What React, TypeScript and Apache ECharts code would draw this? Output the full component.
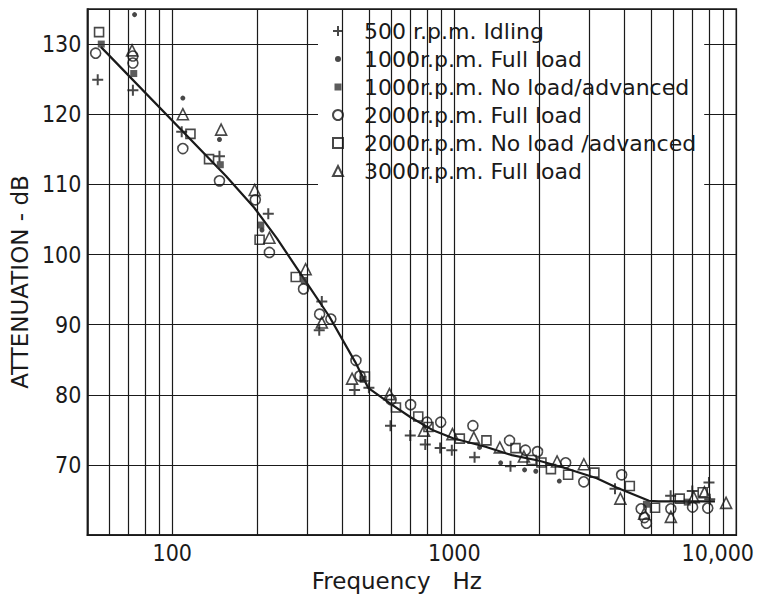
import React, { useEffect, useRef } from 'react';
import * as echarts from 'echarts';

// ---- data (frequency Hz, attenuation dB) ----
const SERIES_NAMES = [
  '500 r.p.m. Idling',
  '1000r.p.m. Full load',
  '1000r.p.m. No load/advanced',
  '2000r.p.m. Full load',
  '2000r.p.m. No load /advanced',
  '3000r.p.m. Full load',
];

const idling500: number[][] = [
  [54.4, 124.9], [72.5, 123.4], [108, 117.5], [147, 114.0], [219, 105.8],
  [339, 93.3], [332, 89.2], [443, 80.7], [498, 81.0], [594, 75.6],
  [698, 74.2], [789, 72.9], [891, 72.4], [980, 72.1], [1180, 71.1],
  [1582, 69.8], [3714, 66.6], [5850, 65.6], [6980, 66.3], [8000, 67.5], [8050, 65.1],
];
const full1000: number[][] = [
  [73.5, 134.2], [109, 122.3], [147, 116.4], [208, 103.5], [1229, 72.5],
  [1460, 70.3], [1775, 69.3], [1945, 69.1], [2357, 67.7],
];
const noload1000: number[][] = [
  [56, 130.0], [73, 125.8], [148, 112.8], [206, 104.2], [294, 96.3],
  [475, 82.2], [4800, 64.4], [6700, 64.7],
];
const full2000: number[][] = [
  [53.5, 128.7], [72.5, 128.3], [72.5, 127.3], [109, 115.1], [147, 110.5],
  [197, 107.8], [221, 100.3], [292, 95.1], [333, 91.5], [365, 90.8],
  [448, 84.9], [463, 82.7], [597, 79.3], [700, 78.6], [800, 76.1],
  [895, 76.1], [1164, 75.6], [1570, 73.5], [1788, 72.1], [1973, 71.9],
  [2483, 70.3], [2878, 67.6], [3921, 68.6], [4598, 63.75], [4722, 62.5],
  [4800, 61.7], [5860, 63.75], [6996, 64.0], [7920, 63.85],
];
const noload2000: number[][] = [
  [55, 131.7], [116, 117.2], [135, 113.6], [204, 102.1], [274, 96.8],
  [482, 82.6], [621, 78.2], [745, 76.9], [810, 75.4], [1046, 73.75],
  [1300, 73.5], [1648, 72.4], [1880, 70.7], [2037, 70.35], [2201, 69.4],
  [2533, 68.6], [3138, 68.9], [4191, 67.0], [5150, 63.9], [6300, 65.2], [7600, 66.1],
];
const full3000: number[][] = [
  [72, 129.1], [109, 120.0], [149, 117.8], [196, 109.2], [221, 102.4],
  [297, 97.9], [339, 90.3], [434, 82.3], [589, 80.1], [781, 74.9],
  [985, 74.4], [1173, 73.9], [1450, 72.5], [1765, 71.2], [2314, 70.5],
  [2880, 70.1], [3880, 65.2], [4713, 63.05], [5860, 62.6], [7060, 65.4],
  [7710, 66.1], [9200, 64.6],
];

const fitCurve: number[][] = [
  [55.8, 129.6], [155, 111.2], [195, 106.7], [235, 102.3], [290, 96.8],
  [360, 91.2], [445, 84.7], [495, 81.0], [600, 78.6], [700, 76.8],
  [845, 74.9], [990, 73.8], [1290, 72.6], [1600, 71.4], [2000, 70.6],
  [2450, 69.6], [3200, 68.1], [3760, 66.8], [4900, 64.9], [5300, 64.8], [8400, 64.8],
];

const FREQ_GRID = [
  60, 70, 80, 90, 100, 200, 300, 400, 500, 600, 700, 800, 900,
  1000, 2000, 3000, 4000, 5000, 6000, 7000, 8000, 9000,
];
const FREQ_LABELS: Record<number, string> = { 100: '100', 1000: '1000', 10000: '{r|10,000}' };

const INK = '#1a1a1a';
const TICK_FONT = "'Liberation Sans Narrow', 'DejaVu Sans Condensed', sans-serif";
const TEXT_FONT = "'DejaVu Sans', sans-serif";

const PLUS = 'path://M5 0L5 10M0 5L10 5';
// small marks inside a 10x10 box (move-to points fix the box size)
const DOT_ICON = 'path://M0 0M10 10M2 5A3 3 0 1 0 8 5A3 3 0 1 0 2 5Z';
const SQ_ICON = 'path://M0 0M10 10M1.5 1.5L8.5 1.5L8.5 8.5L1.5 8.5Z';

export default function App() {
  const ref = useRef<HTMLDivElement>(null);
  useEffect(() => {
    if (!ref.current) return;
    const chart = echarts.init(ref.current, undefined, { renderer: 'svg' });
    const hollow = { color: 'rgba(0,0,0,0)', borderColor: INK, borderWidth: 1.6 };
    const mk = (name: string, data: number[][], symbol: string, size: number, itemStyle: any) => ({
      type: 'scatter', name, data, symbol, symbolSize: size, itemStyle, z: 3,
    });
    chart.setOption({
      animation: false,
      backgroundColor: '#fff',
      grid: { left: 79, right: 15, top: 9, bottom: 52, show: true, borderColor: INK, borderWidth: 1.6, backgroundColor: 'transparent' },
      legend: {
        data: [
          { name: SERIES_NAMES[0] },
          { name: SERIES_NAMES[1], icon: DOT_ICON },
          { name: SERIES_NAMES[2], icon: SQ_ICON },
          { name: SERIES_NAMES[3] },
          { name: SERIES_NAMES[4] },
          { name: SERIES_NAMES[5] },
        ],
        orient: 'vertical',
        left: 318,
        top: 17,
        backgroundColor: '#fff',
        padding: [3, 8, 4, 14],
        itemWidth: 10,
        itemHeight: 10,
        itemGap: 6,
        selectedMode: false,
        textStyle: { fontFamily: TEXT_FONT, fontSize: 22, color: INK, lineHeight: 20, padding: [0, 0, 0, 16] },
      },
      xAxis: {
        type: 'log',
        logBase: 10,
        min: 50,
        max: 10000,
        name: 'Frequency   Hz',
        nameLocation: 'middle',
        nameGap: 32,
        nameTextStyle: { fontFamily: TEXT_FONT, fontSize: 23, color: INK, padding: [0, 30, 0, 0] },
        axisLine: { show: true, lineStyle: { color: INK, width: 1.6 } },
        axisTick: { show: false },
        splitLine: { show: false },
        axisLabel: {
          margin: 6,
          color: INK,
          fontFamily: TICK_FONT,
          fontSize: 23,
          formatter: (v: number) => FREQ_LABELS[Math.round(v)] ?? '',
          rich: { r: { fontFamily: TICK_FONT, fontSize: 23, color: INK, padding: [0, 37, 0, 0] } },
        },
      },
      yAxis: {
        type: 'value',
        min: 60,
        max: 135,
        interval: 10,
        name: 'ATTENUATION - dB',
        nameLocation: 'middle',
        nameGap: 52,
        nameTextStyle: { fontFamily: TEXT_FONT, fontSize: 23, color: INK, padding: [0, 20, 0, 0] },
        axisLine: { show: true, lineStyle: { color: INK, width: 1.6 } },
        axisTick: { show: false },
        splitLine: { show: true, lineStyle: { color: INK, width: 1.2 } },
        axisLabel: {
          margin: 6,
          color: INK,
          fontFamily: TICK_FONT,
          fontSize: 23,
          formatter: (v: number) => (v === 60 || v > 130 ? '' : String(v)),
        },
      },
      series: [
        {
          type: 'line',
          name: 'fit',
          data: fitCurve,
          showSymbol: false,
          symbol: 'none',
          lineStyle: { color: INK, width: 2.2 },
          z: 2,
          markLine: {
            silent: true,
            symbol: ['none', 'none'],
            label: { show: false },
            lineStyle: { color: INK, width: 1.2, type: 'solid' },
            data: FREQ_GRID.map((f) => ({ xAxis: f })),
          },
        },
        mk(SERIES_NAMES[0], idling500, PLUS, 11, { color: 'rgba(0,0,0,0)', borderColor: INK, borderWidth: 2 }),
        mk(SERIES_NAMES[1], full1000, 'circle', 5, { color: INK }),
        mk(SERIES_NAMES[2], noload1000, 'rect', 7, { color: '#333' }),
        mk(SERIES_NAMES[3], full2000, 'circle', 10, hollow),
        mk(SERIES_NAMES[4], noload2000, 'rect', 9, hollow),
        mk(SERIES_NAMES[5], full3000, 'triangle', 11, hollow),
      ],
    });
    return () => chart.dispose();
  }, []);
  return <div ref={ref} style={{ position: 'fixed', left: 0, top: 0, width: 757, height: 597 }} />;
}
